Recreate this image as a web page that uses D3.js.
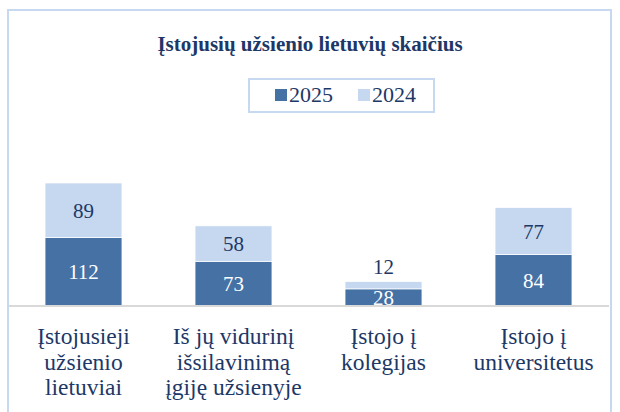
<!DOCTYPE html>
<html lang="lt">
<head>
<meta charset="UTF-8">
<title>chart</title>
<style>
  body { margin: 0; background: #fff; }
</style>
</head>
<body>
<script src="https://cdn.jsdelivr.net/npm/d3@7/dist/d3.min.js"></script>
<script>
  // duomenys
  const categories = [
    ['Įstojusieji', 'užsienio', 'lietuviai'],
    ['Iš jų vidurinį', 'išsilavinimą', 'įgiję užsienyje'],
    ['Įstojo į', 'kolegijas'],
    ['Įstojo į', 'universitetus']
  ];
  const series = ['2025', '2024'];
  const values2025 = [112, 73, 28, 84];
  const values2024 = [89, 58, 12, 77];

  const width = 620;
  const height = 412;
  const font = "'Liberation Serif', 'DejaVu Serif', serif";
  const navy = '#1d3866';
  const colors = { '2025': '#4671a5', '2024': '#c5d8f0' };

  const svg = d3.select('body').append('svg')
    .attr('width', width)
    .attr('height', height)
    .style('font-family', font);

  // rėmelis
  svg.append('rect')
    .attr('x', 8).attr('y', 10)
    .attr('width', 603).attr('height', 410)
    .attr('fill', '#fff')
    .attr('stroke', '#c6d9f1')
    .attr('stroke-width', 2);

  svg.append('text')
    .attr('x', 310).attr('y', 51)
    .attr('text-anchor', 'middle')
    .attr('font-family', font)
    .attr('font-size', 21)
    .attr('font-weight', 'bold')
    .attr('fill', navy)
    .text('Įstojusių užsienio lietuvių skaičius');

  // legenda
  const legend = svg.append('g');
  legend.append('rect')
    .attr('x', 249).attr('y', 79)
    .attr('width', 185).attr('height', 33)
    .attr('fill', '#fff')
    .attr('stroke', '#c6d9f1')
    .attr('stroke-width', 2);
  const legendX = [275, 358];
  series.forEach(function (s, i) {
    legend.append('rect')
      .attr('x', legendX[i]).attr('y', 89)
      .attr('width', 12).attr('height', 12)
      .attr('fill', colors[s]);
    legend.append('text')
      .attr('x', legendX[i] + 14).attr('y', 102)
      .attr('font-family', font)
      .attr('font-size', 22)
      .attr('fill', navy)
      .text(s);
  });

  const x = d3.scaleBand()
    .domain(d3.range(categories.length))
    .range([8.5, 608.5])
    .paddingInner(0.487)
    .paddingOuter(0.2435);

  const y = d3.scaleLinear()
    .domain([0, 250])
    .range([306, 153]);

  const stack = d3.stack().keys(series);
  const rows = categories.map(function (c, i) {
    return { i: i, '2025': values2025[i], '2024': values2024[i] };
  });
  const layers = stack(rows);

  const g = svg.append('g');
  layers.forEach(function (layer) {
    const key = layer.key;
    g.selectAll('rect.s' + key)
      .data(layer)
      .enter()
      .append('rect')
      .attr('x', function (d) { return x(d.data.i); })
      .attr('y', function (d) { return y(d[1]); })
      .attr('width', x.bandwidth())
      .attr('height', function (d) { return y(d[0]) - y(d[1]); })
      .attr('fill', colors[key])
      .attr('stroke', '#fff')
      .attr('stroke-width', 0.75);

    g.selectAll('text.s' + key)
      .data(layer)
      .enter()
      .append('text')
      .attr('x', function (d) { return x(d.data.i) + x.bandwidth() / 2; })
      .attr('y', function (d) {
        const h = y(d[0]) - y(d[1]);
        if (h < 14) return y(d[1]) - 8; // per mažas segmentas – virš stulpelio
        return (y(d[0]) + y(d[1])) / 2 + 7.5;
      })
      .attr('text-anchor', 'middle')
      .attr('font-family', font)
      .attr('font-size', 21)
      .attr('fill', key === '2025' ? '#fff' : navy)
      .text(function (d) { return d.data[key]; });
  });

  // ašis
  svg.append('line')
    .attr('x1', 9).attr('x2', 609)
    .attr('y1', y(0)).attr('y2', y(0))
    .attr('stroke', '#d9d9d9')
    .attr('stroke-width', 2);

  const labels = svg.append('g');
  categories.forEach(function (lines, i) {
    const t = labels.append('text')
      .attr('text-anchor', 'middle')
      .attr('font-family', font)
      .attr('font-size', 23.5)
      .attr('fill', navy);
    lines.forEach(function (line, j) {
      t.append('tspan')
        .attr('x', x(i) + x.bandwidth() / 2)
        .attr('y', 344 + j * 25.5)
        .text(line);
    });
  });
</script>
</body>
</html>
